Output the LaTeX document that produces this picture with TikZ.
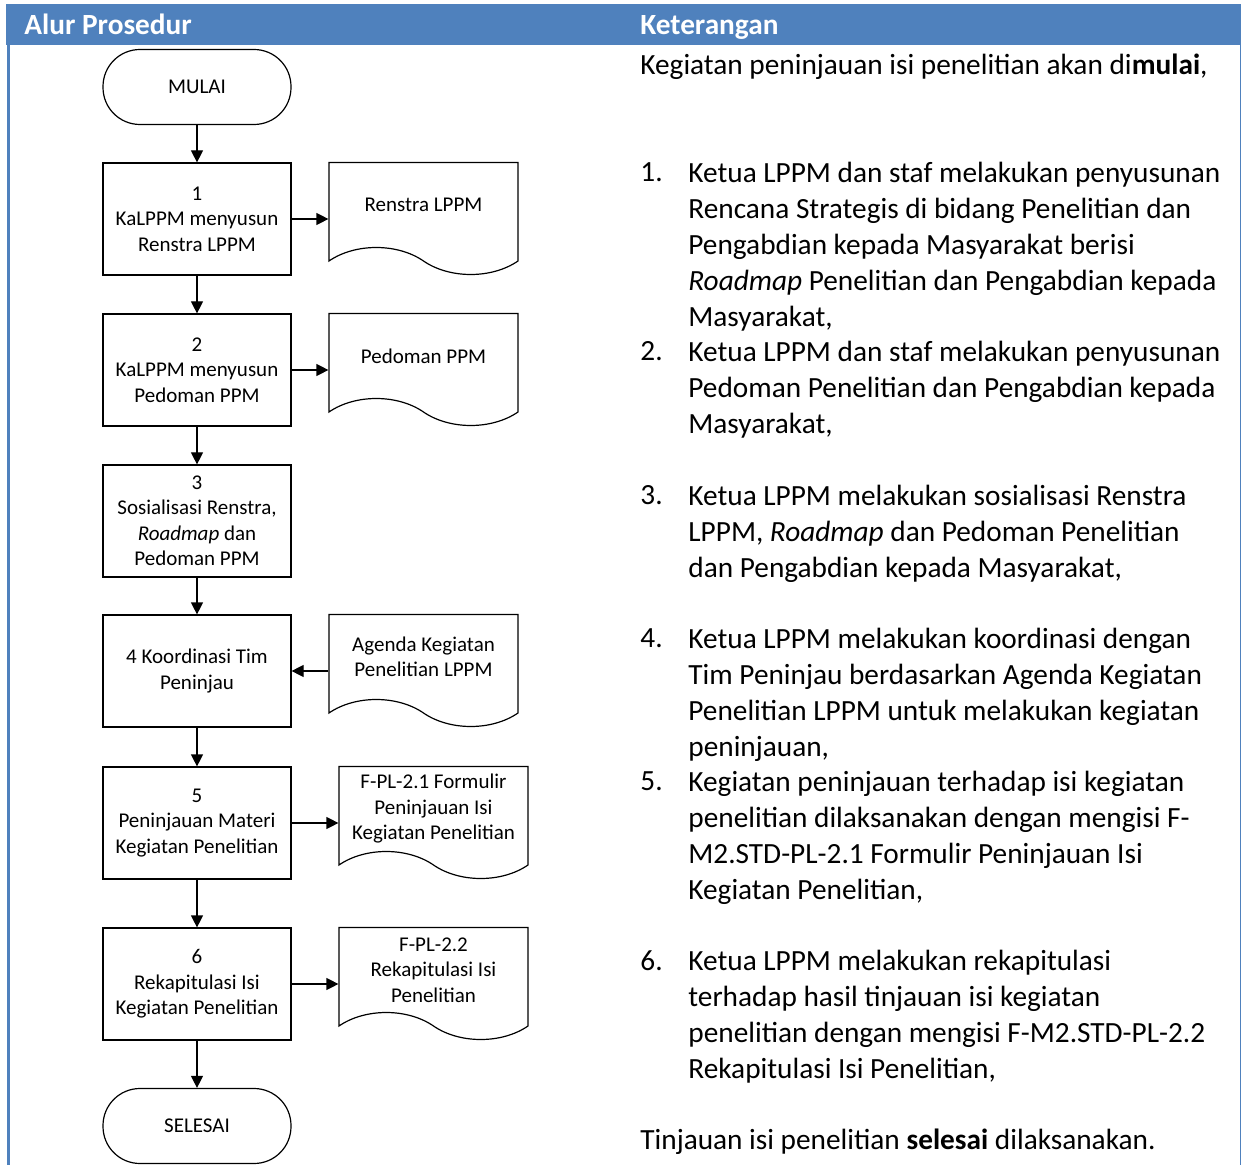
\documentclass[tikz,border=0pt]{standalone}
\usepackage{fontspec}
\setmainfont{Carlito}
\usetikzlibrary{arrows.meta,shapes.symbols}
\definecolor{hdrblue}{RGB}{79,129,189}

\begin{document}
\begin{tikzpicture}[x=0.5pt,y=-0.5pt,
	proc/.style={draw,line width=0.6pt,minimum width=94pt,minimum height=56pt,inner sep=0pt,align=center,font=\fontsize{10.5}{12.75}\selectfont},
	term/.style={proc,minimum height=37.5pt,rounded corners=18.5pt},
	doc/.style={draw,line width=0.6pt,shape=tape,tape bend top=none,tape bend bottom=out and in,tape bend height=13.5pt,minimum width=94.5pt,minimum height=56pt,inner sep=0pt},
	doctxt/.style={inner sep=0pt,align=center,font=\fontsize{10.5}{12.75}\selectfont},
	flow/.style={line width=0.6pt,-{Triangle[length=6pt,width=6pt]}},
	hdr/.style={anchor=base west,inner sep=0pt,text=white,font=\fontsize{14.65}{18}\selectfont\bfseries},
	txt/.style={anchor=north west,inner sep=0pt,align=left,font=\fontsize{14.65}{18}\selectfont}]
	\useasboundingbox (0,0) rectangle (1241,1165);
	% frame
	\fill[hdrblue] (6,4) rectangle (1241,45);
	\fill[hdrblue] (7,45) rectangle (10,1165);
	\draw[hdrblue,line width=0.5pt] (1240,45) -- (1240,1165);
	\node[hdr] (h1) at (24,35) {Alur Prosedur};
	\node[hdr] (h2) at (640,35) {Keterangan};
	
	% flowchart
	\node[term] (mulai) at (197,87) {MULAI};
	\node[proc] (b1) at (197,219) {1\\KaLPPM menyusun\\Renstra LPPM};
	\node[proc] (b2) at (197,370) {2\\KaLPPM menyusun\\Pedoman PPM};
	\node[proc] (b3) at (197,521) {3\\Sosialisasi Renstra,\\\textit{Roadmap} dan\\Pedoman PPM};
	\node[proc] (b4) at (197,671) {4 Koordinasi Tim\\Peninjau};
	\node[proc] (b5) at (197,823) {5\\Peninjauan Materi\\Kegiatan Penelitian};
	\node[proc] (b6) at (197,984) {6\\Rekapitulasi Isi\\Kegiatan Penelitian};
	\node[term] (selesai) at (197,1126) {SELESAI};
	
	\node[doc,label={[doctxt]center:Renstra LPPM}] (d1) at (423.5,205) {};
	\node[doc,label={[doctxt]center:Pedoman PPM}] (d2) at (423.5,356) {};
	\node[doc,label={[doctxt]center:{Agenda Kegiatan\\Penelitian LPPM}}] (d4) at (423.5,657) {};
	\node[doc,label={[doctxt]center:{F-PL-2.1 Formulir\\Peninjauan Isi\\Kegiatan Penelitian}}] (d5) at (433.5,809) {};
	\node[doc,label={[doctxt]center:{F-PL-2.2\\Rekapitulasi Isi\\Penelitian}}] (d6) at (433.5,970) {};
	
	\draw[flow] (mulai) -- (b1);
	\draw[flow] (b1) -- (b2);
	\draw[flow] (b2) -- (b3);
	\draw[flow] (b3) -- (b4);
	\draw[flow] (b4) -- (b5);
	\draw[flow] (b5) -- (b6);
	\draw[flow] (b6) -- (selesai);
	\draw[flow] (b1.east) -- (b1.east -| d1.west);
	\draw[flow] (b2.east) -- (b2.east -| d2.west);
	\draw[flow] (b4.east -| d4.west) -- (b4.east);
	\draw[flow] (b5.east) -- (b5.east -| d5.west);
	\draw[flow] (b6.east) -- (b6.east -| d6.west);
	
	% keterangan
	\node[txt] (k0) at (640,54) {Kegiatan peninjauan isi penelitian akan di\textbf{mulai},};
	\node[txt] (n1) at (640,162) {1.};
	\node[txt] (k1) at (688,162) {Ketua LPPM dan staf melakukan penyusunan\\Rencana Strategis di bidang Penelitian dan\\Pengabdian kepada Masyarakat berisi\\\textit{Roadmap} Penelitian dan Pengabdian kepada\\Masyarakat,};
	\node[txt] (n2) at (640,341) {2.};
	\node[txt] (k2) at (688,341) {Ketua LPPM dan staf melakukan penyusunan\\Pedoman Penelitian dan Pengabdian kepada\\Masyarakat,};
	\node[txt] (n3) at (640,485) {3.};
	\node[txt] (k3) at (688,485) {Ketua LPPM melakukan sosialisasi Renstra\\LPPM, \textit{Roadmap} dan Pedoman Penelitian\\dan Pengabdian kepada Masyarakat,};
	\node[txt] (n4) at (640,628) {4.};
	\node[txt] (k4) at (688,628) {Ketua LPPM melakukan koordinasi dengan\\Tim Peninjau berdasarkan Agenda Kegiatan\\Penelitian LPPM untuk melakukan kegiatan\\peninjauan,};
	\node[txt] (n5) at (640,771) {5.};
	\node[txt] (k5) at (688,771) {Kegiatan peninjauan terhadap isi kegiatan\\penelitian dilaksanakan dengan mengisi F-\\M2.STD-PL-2.1 Formulir Peninjauan Isi\\Kegiatan Penelitian,};
	\node[txt] (n6) at (640,950) {6.};
	\node[txt] (k6) at (688,950) {Ketua LPPM melakukan rekapitulasi\\terhadap hasil tinjauan isi kegiatan\\penelitian dengan mengisi F-M2.STD-PL-2.2\\Rekapitulasi Isi Penelitian,};
	\node[txt] (k7) at (640,1129) {Tinjauan isi penelitian \textbf{selesai} dilaksanakan.};
\end{tikzpicture}
\end{document}
